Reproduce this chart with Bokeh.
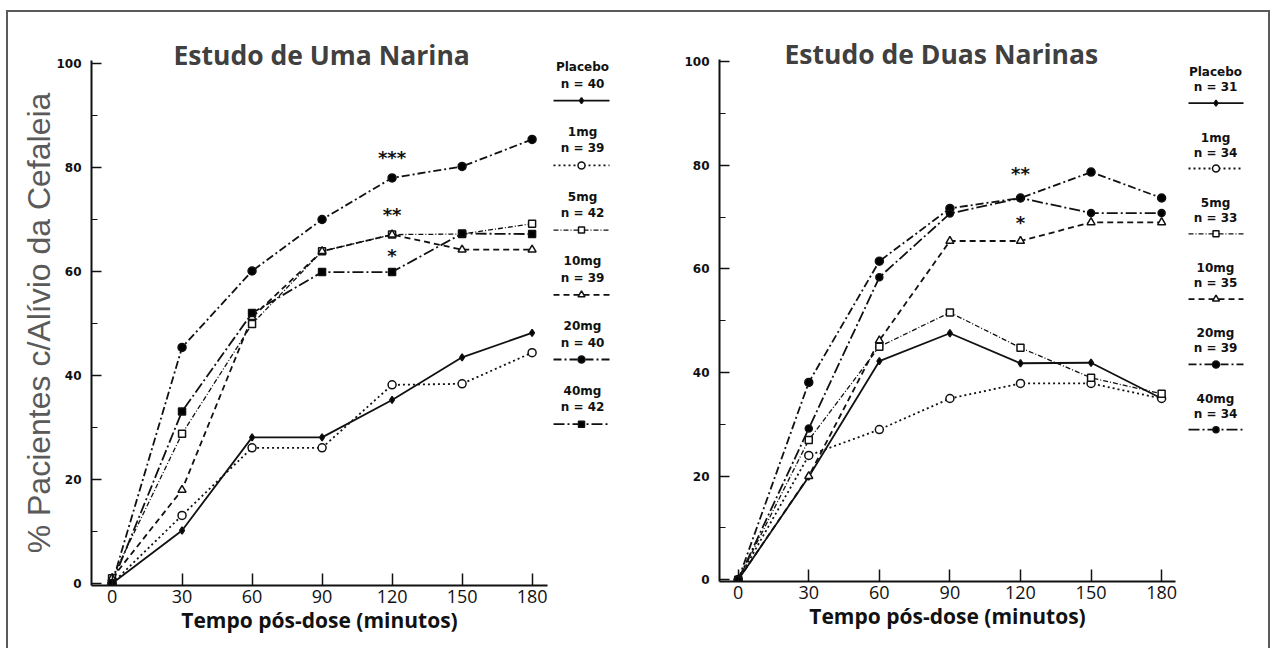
from bokeh.plotting import figure
from bokeh.layouts import row
from bokeh.models import Range1d, FixedTicker
from bokeh.embed import file_html
from bokeh.resources import INLINE
from bokeh.core.properties import value

# ---------------- data ----------------
times = [0, 30, 60, 90, 120, 150, 180]
groups = ["Placebo", "1mg", "5mg", "10mg", "20mg", "40mg"]

one_placebo = [0, 10.2, 28.1, 28.1, 35.3, 43.5, 48.2]
one_1mg = [0, 13.1, 26.1, 26.1, 38.2, 38.4, 44.4]
one_5mg = [1, 28.8, 49.9, 63.9, 67.1, 67.2, 69.2]
one_10mg = [1, 18.0, 51.2, 63.9, 67.1, 64.2, 64.2]
one_20mg = [0, 45.4, 60.1, 70.0, 78.0, 80.2, 85.4]
one_40mg = [0, 33.1, 52.0, 59.9, 59.9, 67.3, 67.2]
one_n = [40, 39, 42, 39, 40, 42]

two_placebo = [0, 19.9, 42.2, 47.6, 41.8, 41.9, 35.0]
two_1mg = [0, 24.0, 29.0, 35.0, 37.9, 37.9, 35.0]
two_5mg = [0, 27.0, 45.0, 51.6, 44.8, 39.0, 35.9]
two_10mg = [0, 20.0, 46.2, 65.4, 65.4, 69.0, 69.0]
two_20mg = [0, 38.1, 61.5, 71.7, 73.7, 78.7, 73.7]
two_40mg = [0, 29.2, 58.4, 70.7, 73.7, 70.8, 70.8]
two_n = [31, 34, 33, 35, 39, 34]

star_x = 120
one_stars = ["***", "**", "*"]
one_star_y = [81.9, 71.0, 63.0]
two_stars = ["**", "*"]
two_star_y = [78.5, 69.0]

y_ticks = [0, 20, 40, 60, 80, 100]
y_minor = [10, 30, 50, 70, 90]

title_one = "Estudo de Uma Narina"
title_two = "Estudo de Duas Narinas"
x_title = "Tempo pós-dose (minutos)"
y_title = "% Pacientes c/Alívio da Cefaleia"

# ---------------- styles ----------------
STY = {
    "Placebo": dict(dash="solid", lw=1.8, marker="diamond", size=7, fill="black"),
    "1mg": dict(dash="2 3", lw=1.8, marker="circle", size=8, fill="white"),
    "5mg": dict(dash="5 2 1 2", lw=1.3, marker="square", size=7, fill="white"),
    "10mg": dict(dash="6 4", lw=1.8, marker="triangle", size=8, fill="white"),
    "20mg": dict(dash="8 3 2 3", lw=1.8, marker="circle", size=8, fill="black"),
    "40mg": dict(dash="11 3 2 3", lw=1.8, marker="square", size=7, fill="black"),
}
H = 636
TOP = 12          # page y of the content's top edge (margin + border)
INK = "#111111"


def style_axes(p):
    p.grid.visible = False
    p.outline_line_color = None
    for ax in p.axis:
        ax.axis_line_color = INK
        ax.axis_line_width = 2
        ax.major_tick_line_color = INK
        ax.major_tick_line_width = 1.5
        ax.minor_tick_line_color = INK
        ax.minor_tick_line_width = 1.2
        ax.major_tick_out = 0
        ax.minor_tick_out = 0
        ax.axis_label_text_font_style = "normal"
    p.xaxis.ticker = FixedTicker(ticks=times)
    p.xaxis.major_tick_in = 12
    p.xaxis.major_label_text_font = "Open Sans"
    p.xaxis.major_label_text_font_size = "18px"
    p.xaxis.major_label_text_color = INK
    p.xaxis.major_label_standoff = 4
    p.xaxis.axis_label = x_title
    p.xaxis.axis_label_text_font = "Open Sans"
    p.xaxis.axis_label_text_font_style = "bold"
    p.xaxis.axis_label_text_font_size = "21px"
    p.xaxis.axis_label_text_color = INK
    p.xaxis.axis_label_standoff = 0
    p.yaxis.ticker = FixedTicker(ticks=y_ticks, minor_ticks=y_minor)
    p.yaxis.major_tick_in = 10
    p.yaxis.minor_tick_in = 6
    p.yaxis.major_label_text_font = "DejaVu Sans"
    p.yaxis.major_label_text_font_style = "bold"
    p.yaxis.major_label_text_font_size = "12px"
    p.yaxis.major_label_text_color = INK
    p.yaxis.major_label_standoff = 10


def draw_series(p, series, marker40):
    for g, ys in zip(groups, series):
        s = STY[g]
        p.line(times, ys, line_color=INK, line_width=s["lw"], line_dash=s["dash"])
    for g, ys in zip(groups, series):
        s = STY[g]
        mk = marker40 if g == "40mg" else s["marker"]
        p.scatter(times, ys, marker=mk, size=s["size"], line_color=INK,
                  line_width=1.5, fill_color=s["fill"])


def make_chart(width, mbl, mbr, mbt, mbb, xr, yr, series, marker40, stars, star_y,
               title, t_offset, ylabel):
    p = figure(width=width, height=H, x_range=Range1d(*xr), y_range=Range1d(*yr),
               output_backend="svg", toolbar_location=None, frame_align=False,
               min_border_left=mbl, min_border_right=mbr,
               min_border_top=mbt, min_border_bottom=mbb)
    style_axes(p)
    p.title.text = title
    p.title.align = "left"
    p.title.vertical_align = "top"
    p.title.offset = t_offset
    p.title.standoff = -28
    p.title.text_font = "Open Sans"
    p.title.text_font_style = "bold"
    p.title.text_font_size = "26.5px"
    p.title.text_color = "#404040"
    if ylabel:
        p.yaxis.axis_label = y_title
        p.yaxis.axis_label_text_font = "Liberation Sans"
        p.yaxis.axis_label_text_font_size = "32px"
        p.yaxis.axis_label_text_color = "#5a5a5a"
        p.yaxis.axis_label_standoff = -4
    draw_series(p, series, marker40)
    p.text(x=[star_x] * len(stars), y=star_y, text=stars,
           text_font=value("DejaVu Sans"), text_font_style="bold",
           text_font_size="18px", text_align="center", text_baseline="alphabetic",
           text_color=INK)
    return p


def make_legend(x0, x1, ns, y_start, step, d_n, d_line, cx, lx0, lx1, marker40):
    p = figure(width=int(x1 - x0), height=H, x_range=Range1d(x0, x1),
               y_range=Range1d(TOP + H, TOP), output_backend="svg",
               toolbar_location=None, x_axis_type=None, y_axis_type=None,
               frame_align=False,
               min_border_left=0, min_border_right=0, min_border_top=0,
               min_border_bottom=0)
    p.grid.visible = False
    p.outline_line_color = None
    names_y = [y_start + i * step for i in range(len(groups))]
    p.text(x=[cx] * len(groups), y=names_y, text=groups,
           text_font=value("DejaVu Sans"), text_font_style="bold",
           text_font_size="12px", text_align="center", text_baseline="middle",
           text_color=INK)
    p.text(x=[cx] * len(groups), y=[v + d_n for v in names_y],
           text=[f"n = {n}" for n in ns],
           text_font=value("DejaVu Sans"), text_font_style="bold",
           text_font_size="12px", text_align="center", text_baseline="middle",
           text_color=INK)
    for g, yy in zip(groups, names_y):
        s = STY[g]
        ly = yy + d_line
        p.line([lx0, lx1], [ly, ly], line_color=INK, line_width=s["lw"],
               line_dash=s["dash"])
        mk = marker40 if g == "40mg" else s["marker"]
        p.scatter([(lx0 + lx1) / 2], [ly], marker=mk, size=s["size"] - 1,
                  line_color=INK, line_width=1.5, fill_color=s["fill"])
    return p


one_series = [one_placebo, one_1mg, one_5mg, one_10mg, one_20mg, one_40mg]
two_series = [two_placebo, two_1mg, two_5mg, two_10mg, two_20mg, two_40mg]

p1 = make_chart(542, 83, 3, 48, 63, (-8.8, 186.6), (-0.385, 100.58), one_series,
                "square", one_stars, one_star_y, title_one, 82, True)
l1 = make_legend(550, 630, one_n, 66.7, 64.7, 16.5, 33.5, 582, 553, 609, "square")
p2 = make_chart(550, 89, 5, 47, 67, (-7.95, 185.9), (-0.33, 100.44), two_series,
                "circle", two_stars, two_star_y, title_two, 65, False)
l2 = make_legend(1180, 1268, two_n, 71.7, 65.3, 15.0, 31.0, 1215, 1188, 1243, "circle")

layout = row(p1, l1, p2, l2,
             styles={"margin": "10px 0px 0px 6px",
                     "border-top": "2px solid #5a5a5a",
                     "border-left": "2px solid #5a5a5a",
                     "border-right": "2px solid #5a5a5a"})

open("out.html", "w").write(file_html(layout, INLINE))
